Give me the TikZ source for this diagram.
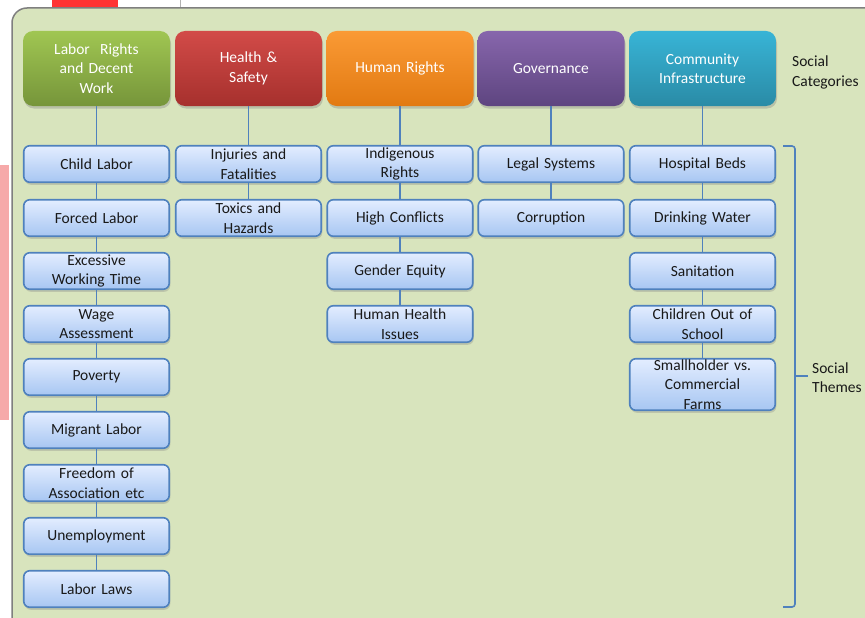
\documentclass[tikz,border=0pt]{standalone}
\usepackage{fontspec}
\setmainfont{Carlito}
\usetikzlibrary{shadows}
\definecolor{panel}{HTML}{D8E4BD}
\definecolor{frame}{HTML}{7F7F7F}
\definecolor{themeline}{HTML}{4F81BD}
\definecolor{themetop}{HTML}{E3EDFF}
\definecolor{themebot}{HTML}{A7C6F2}
\definecolor{scrap}{HTML}{F6A9A9}
\definecolor{laborTop}{HTML}{A0C652}
\definecolor{laborBot}{HTML}{76953A}
\definecolor{healthTop}{HTML}{D24B48}
\definecolor{healthBot}{HTML}{A6302D}
\definecolor{humanTop}{HTML}{FA9A35}
\definecolor{humanBot}{HTML}{E27A12}
\definecolor{govTop}{HTML}{8766AC}
\definecolor{govBot}{HTML}{5E4580}
\definecolor{commTop}{HTML}{38B4D6}
\definecolor{commBot}{HTML}{2A8BA6}
\tikzset{
  every node/.style={font=\fontsize{15.5}{19.5}\selectfont},
  cat/.style={rounded corners=10pt, minimum width=147pt, minimum height=75pt,
    text width=135pt, align=center, text=white, inner sep=0pt,
    drop shadow={shadow xshift=1pt, shadow yshift=-2.5pt, opacity=0.35}},
  theme/.style={draw=themeline, line width=1.6pt, rounded corners=6pt,
    top color=themetop, bottom color=themebot, minimum width=145.5pt,
    minimum height=36.5pt, text width=135pt, align=center, inner sep=0pt,
    text=black!90, drop shadow={shadow xshift=1pt, shadow yshift=-2.5pt, opacity=0.3}},
  link/.style={draw=themeline, line width=1.6pt},
  lab/.style={text=black!90, align=left, anchor=west, inner sep=0pt},
}
\begin{document}
\begin{tikzpicture}[x=1pt,y=-1pt]
  \useasboundingbox (0,0) rectangle (865,618);
  % what shows of the page behind
  \fill[white] (0,0) rectangle (865,618);
  \fill[scrap] (0,165) rectangle (9,420);
  \fill[red!80] (52,0) rectangle (118,7);
  \draw[frame!60] (180,0) -- (180,8);
  % panel
  \draw[frame, line width=1.5pt, fill=panel, rounded corners=15pt] (12,8) rectangle (900,650);

  % categories
  \node[cat, top color=laborTop, bottom color=laborBot] (labor) at (96.5,68.5) {Labor\ \ Rights\\and Decent\\Work};
  \node[cat, top color=healthTop, bottom color=healthBot] (health) at (248.5,68.5) {Health \&\\Safety};
  \node[cat, top color=humanTop, bottom color=humanBot] (human) at (400,68.5) {Human Rights};
  \node[cat, top color=govTop, bottom color=govBot] (gov) at (551,68.5) {Governance};
  \node[cat, top color=commTop, bottom color=commBot] (comm) at (702.5,68.5) {Community\\Infrastructure};

  % themes, labor
  \node[theme] (child) at (96.5,164) {Child Labor};
  \node[theme] (forced) at (96.5,218) {Forced Labor};
  \node[theme] (excess) at (96.5,271) {Excessive\\Working Time};
  \node[theme] (wage) at (96.5,324) {Wage\\Assessment};
  \node[theme] (poverty) at (96.5,377) {Poverty};
  \node[theme] (migrant) at (96.5,430) {Migrant Labor};
  \node[theme] (freedom) at (96.5,483) {Freedom of\\Association etc};
  \node[theme] (unemp) at (96.5,536) {Unemployment};
  \node[theme] (laws) at (96.5,589) {Labor Laws};
  % health
  \node[theme] (injury) at (248.5,164) {Injuries and\\Fatalities};
  \node[theme] (toxic) at (248.5,218) {Toxics and\\Hazards};
  % human rights
  \node[theme] (indig) at (400,164) {Indigenous\\Rights};
  \node[theme] (conflict) at (400,218) {High Conflicts};
  \node[theme] (gender) at (400,271) {Gender Equity};
  \node[theme] (health2) at (400,324) {Human Health\\Issues};
  % governance
  \node[theme] (legal) at (551,164) {Legal Systems};
  \node[theme] (corrupt) at (551,218) {Corruption};
  % community
  \node[theme] (beds) at (702.5,164) {Hospital Beds};
  \node[theme] (water) at (702.5,218) {Drinking Water};
  \node[theme] (sanit) at (702.5,271) {Sanitation};
  \node[theme] (school) at (702.5,324) {Children Out of\\School};
  \node[theme, minimum height=51.5pt] (farms) at (702.5,384.5) {Smallholder vs.\\Commercial\\Farms};

  % links
  \draw[link] (labor) -- (child);
  \draw[link] (child) -- (forced);
  \draw[link] (forced) -- (excess);
  \draw[link] (excess) -- (wage);
  \draw[link] (wage) -- (poverty);
  \draw[link] (poverty) -- (migrant);
  \draw[link] (migrant) -- (freedom);
  \draw[link] (freedom) -- (unemp);
  \draw[link] (unemp) -- (laws);
  \draw[link] (health) -- (injury);
  \draw[link] (injury) -- (toxic);
  \draw[link] (human) -- (indig);
  \draw[link] (indig) -- (conflict);
  \draw[link] (conflict) -- (gender);
  \draw[link] (gender) -- (health2);
  \draw[link] (gov) -- (legal);
  \draw[link] (legal) -- (corrupt);
  \draw[link] (comm) -- (beds);
  \draw[link] (beds) -- (water);
  \draw[link] (water) -- (sanit);
  \draw[link] (sanit) -- (school);
  \draw[link] (school) -- (farms);

  % bracket
  \coordinate (tip) at (808,376);
  \draw[link, rounded corners=3pt] (783,146) -- (795,146) -- (795,607) -- (783,607);
  \draw[link] (795,376) -- (tip);
  \node[lab] (themes) at (812,377.5) {Social\\Themes};
  \node[lab] (cats) at (792,72.5) {Social\\Categories};
\end{tikzpicture}
\end{document}
